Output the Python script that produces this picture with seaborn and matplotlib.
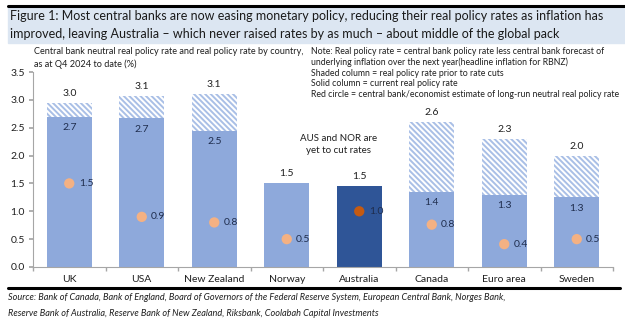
import numpy as np
import pandas as pd
import matplotlib
matplotlib.use("Agg")
import matplotlib.pyplot as plt
import seaborn as sns

countries = ["UK", "USA", "New Zealand", "Norway", "Australia", "Canada", "Euro area", "Sweden"]
prior_rate = [2.95, 3.07, 3.10, 1.50, 1.45, 2.60, 2.30, 2.00]
prior_label = ["3.0", "3.1", "3.1", "", "", "2.6", "2.3", "2.0"]
current_rate = [2.70, 2.67, 2.45, 1.50, 1.45, 1.35, 1.30, 1.25]
current_label = ["2.7", "2.7", "2.5", "1.5", "1.5", "1.4", "1.3", "1.3"]
neutral_rate = [1.50, 0.90, 0.80, 0.50, 1.00, 0.76, 0.41, 0.50]
neutral_label = ["1.5", "0.9", "0.8", "0.5", "1.0", "0.8", "0.4", "0.5"]
yticks = [0.0, 0.5, 1.0, 1.5, 2.0, 2.5, 3.0, 3.5]

sns.set_theme(style="white")
plt.rcParams["font.family"] = ["Lato", "DejaVu Sans"]
plt.rcParams["hatch.linewidth"] = 1.4

LIGHT = "#8EA9DB"
HATCH = "#A9BFE6"
DARK = "#2F5597"
PEACH = "#F4B183"
ORANGE = "#C55A11"
TXT = "#1F1F1F"
NAVY = "#1F2D4D"

df = pd.DataFrame({"country": countries, "prior": prior_rate,
                   "current": current_rate, "neutral": neutral_rate})

fig = plt.figure(figsize=(6.25, 3.21), dpi=100)
ax = fig.add_axes([33/625, 1-267/321, (613-33)/625, (267-72)/321])

# shaded (prior) columns
sns.barplot(data=df, x="country", y="prior", ax=ax, color="white", width=0.62,
            edgecolor=HATCH, linewidth=0, hatch="\\" * 6, saturation=1)
# solid (current) columns
palette = [DARK if c == "Australia" else LIGHT for c in countries]
sns.barplot(data=df, x="country", y="current", hue="country", palette=palette, legend=False,
            ax=ax, width=0.62, linewidth=0, saturation=1)
for p in ax.patches[len(countries):]:
    p.set_hatch(None)

# neutral rate circles
xs = np.arange(len(countries))
dot_colors = [ORANGE if c == "Australia" else PEACH for c in countries]
ax.scatter(xs, neutral_rate, s=55, c=dot_colors, zorder=5, linewidths=0)

for i in range(len(countries)):
    ax.text(xs[i] + 0.13, neutral_rate[i], neutral_label[i], fontsize=7.5, color=NAVY,
            va="center", ha="left")
    if prior_label[i]:
        ax.text(xs[i], prior_rate[i] + 0.09, prior_label[i], fontsize=7.5, color=TXT,
                ha="center", va="bottom")
        ax.text(xs[i], current_rate[i] - 0.2, current_label[i], fontsize=7.5, color=NAVY,
                ha="center", va="center")
    else:
        ax.text(xs[i], current_rate[i] + 0.09, current_label[i], fontsize=7.5, color=TXT,
                ha="center", va="bottom")

ax.text(3.72, 2.2, "AUS and NOR are\nyet to cut rates", fontsize=7, color=TXT,
        ha="center", va="center", linespacing=1.5)

ax.set_xlim(-0.5, len(countries) - 0.5)
ax.set_ylim(0, 3.5)
ax.set_yticks(yticks)
ax.set_yticklabels([f"{v:.1f}" for v in yticks], fontsize=7.5, color=TXT)
ax.set_xlabel("")
ax.set_ylabel("")
ax.tick_params(axis="x", length=0, labelsize=7.5, labelcolor=TXT, pad=6)
ax.set_xticks(np.arange(-0.5, len(countries)), minor=True)
ax.tick_params(axis="x", which="minor", length=3, color="#A6A6A6", direction="out", bottom=True)
ax.tick_params(axis="y", length=3, color="#A6A6A6", direction="out", left=True, pad=3)
for s in ["top", "right"]:
    ax.spines[s].set_visible(False)
for s in ["left", "bottom"]:
    ax.spines[s].set_color("#A6A6A6")
    ax.spines[s].set_linewidth(0.8)

# title band
fig.patches.append(plt.Rectangle((8/625, 1-43/321), 1, 37/321, transform=fig.transFigure,
                                 color="#DCE6F2", zorder=0))
fig.add_artist(plt.Line2D([8/625, 1], [1-6/321, 1-6/321], color="black", lw=2.2))
fig.text(10/625, 1-16/321, "Figure 1: Most central banks are now easing monetary policy, reducing their real policy rates as inflation has",
         fontsize=9.0, color="#1A1A1A", va="center", ha="left")
fig.text(10/625, 1-34/321, "improved, leaving Australia \u2013 which never raised rates by as much \u2013 about middle of the global pack",
         fontsize=9.0, color="#1A1A1A", va="center", ha="left")

fig.text(34/625, 1-52/321, "Central bank neutral real policy rate and real policy rate by country,",
         fontsize=6.6, color=TXT, va="center")
fig.text(34/625, 1-64/321, "as at Q4 2024 to date (%)", fontsize=6.6, color=TXT, va="center")

notes = ["Note: Real policy rate = central bank policy rate less central bank forecast of",
         "underlying inflation over the next year(headline inflation for RBNZ)",
         "Shaded column = real policy rate prior to rate cuts",
         "Solid column = current real policy rate",
         "Red circle = central bank/economist estimate of long-run neutral real policy rate"]
for k, line in enumerate(notes):
    fig.text(311/625, 1-(51 + 11*k)/321, line, fontsize=6.3, color=TXT, va="center")

fig.add_artist(plt.Line2D([8/625, 620/625], [1-288/321, 1-288/321], color="black", lw=2.2))
fig.text(8/625, 1-298/321, "Source: Bank of Canada, Bank of England, Board of Governors of the Federal Reserve System, European Central Bank, Norges Bank,",
         fontsize=6.6, style="italic", color=TXT, va="center")
fig.text(8/625, 1-313/321, "Reserve Bank of Australia, Reserve Bank of New Zealand, Riksbank, Coolabah Capital Investments",
         fontsize=6.6, style="italic", color=TXT, va="center")

fig.savefig("out.png", dpi=100)
